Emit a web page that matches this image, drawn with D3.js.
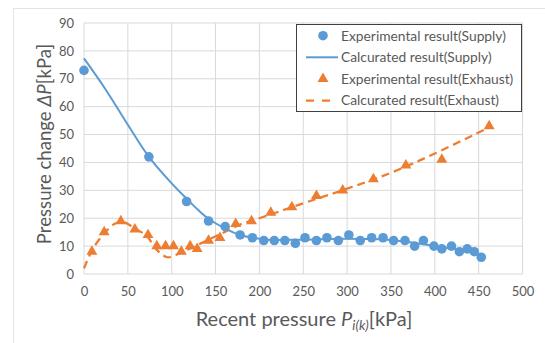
<!DOCTYPE html>
<html>
<head>
<meta charset="utf-8">
<script src="https://cdn.jsdelivr.net/npm/d3@7"></script>
<style>
  body { margin: 0; background: #fff; }
  svg text { font-family: Lato, "Open Sans", sans-serif; }
</style>
</head>
<body>
<div id="chart"></div>
<script>
// measured values
const supplyExp = [
    [0, 73], [74, 42], [117, 26], [142, 19], [161, 17], [178, 14], [192, 13],
    [205, 12], [217, 12], [229, 12], [241, 11], [252, 13], [265, 12], [277, 13],
    [290, 12], [302, 14], [315, 12], [328, 13], [341, 13], [353, 12], [366, 12],
    [377, 10], [387, 12], [399, 10], [408, 9], [419, 10], [428, 8], [437, 9],
    [445, 8], [453, 6]
];
const supplyCalc = [
    [0, 77.3], [25, 66], [50, 53.5], [74, 42], [100, 32.5], [117, 27], [130, 23],
    [142, 19.8], [161, 16.3], [178, 14], [192, 13], [210, 12.3], [250, 12.3],
    [300, 12.6], [350, 12.2], [380, 11], [410, 9.5], [435, 8.3], [453, 6.3]
];
const exhaustExp = [
    [9, 8], [23, 15], [42, 19], [58, 16], [73, 14], [83, 10], [93, 10], [102, 10],
    [111, 8], [121, 10], [129, 9], [142, 12], [155, 13], [173, 18], [191, 19],
    [213, 22], [237, 24], [265, 28], [295, 30], [330, 34], [367, 39], [408, 41],
    [462, 53]
];
const exhaustCalc = [
    [0, 2], [10, 9], [23, 14.5], [35, 18], [45, 18.6], [58, 16.3], [72, 13.5],
    [82, 9], [95, 6], [106, 7], [120, 9], [140, 12], [160, 15], [180, 18],
    [200, 20], [240, 24.3], [300, 30.6], [350, 36.3], [400, 43.2], [462, 52.6]
];
const xTicks = d3.range(0, 501, 50);
const yTicks = d3.range(0, 91, 10);
const legendItems = [
    { label: "Experimental result(Supply)", type: "circle", color: "#5B9BD5" },
    { label: "Calcurated result(Supply)", type: "line", color: "#5B9BD5" },
    { label: "Experimental result(Exhaust)", type: "triangle", color: "#ED7D31" },
    { label: "Calcurated result(Exhaust)", type: "dash", color: "#ED7D31" }
];

const width = 545, height = 343;
const margin = { top: 23, right: 22, bottom: 69, left: 84 };

const svg = d3.select("#chart").append("svg")
    .attr("width", width)
    .attr("height", height);

// outer chart border
svg.append("rect")
    .attr("x", 13.5).attr("y", 8.5)
    .attr("width", width).attr("height", height)
    .attr("fill", "none")
    .attr("stroke", "#e3e3e3");

const x = d3.scaleLinear().domain([0, 500]).range([margin.left, width - margin.right - 0.5]);
const y = d3.scaleLinear().domain([0, 90]).range([height - margin.bottom, margin.top]);

// grid
svg.append("g").selectAll("line").data(xTicks).join("line")
    .attr("x1", d => x(d)).attr("x2", d => x(d))
    .attr("y1", y(0)).attr("y2", y(90))
    .attr("stroke", "#d9d9d9").attr("stroke-width", 1);
svg.append("g").selectAll("line").data(yTicks).join("line")
    .attr("x1", x(0)).attr("x2", x(500))
    .attr("y1", d => y(d)).attr("y2", d => y(d))
    .attr("stroke", "#d9d9d9").attr("stroke-width", 1);

// axes (labels only)
const xAxis = svg.append("g")
    .attr("transform", `translate(0,${y(0)})`)
    .call(d3.axisBottom(x).tickValues(xTicks).tickSize(0).tickPadding(13));
const yAxis = svg.append("g")
    .attr("transform", `translate(${x(0)},0)`)
    .call(d3.axisLeft(y).tickValues(yTicks).tickSize(0).tickPadding(10));
[xAxis, yAxis].forEach(g => {
    g.select(".domain").remove();
    g.selectAll("text")
        .attr("fill", "#595959")
        .style("font-size", "13px");
});

// series
const lineGen = d3.line().x(d => x(d[0])).y(d => y(d[1])).curve(d3.curveCatmullRom);

svg.append("path")
    .datum(supplyCalc)
    .attr("d", lineGen)
    .attr("fill", "none")
    .attr("stroke", "#5B9BD5")
    .attr("stroke-width", 2);

svg.append("path")
    .datum(exhaustCalc)
    .attr("d", lineGen)
    .attr("fill", "none")
    .attr("stroke", "#ED7D31")
    .attr("stroke-width", 2.25)
    .attr("stroke-dasharray", "8,5");

svg.append("g").selectAll("circle").data(supplyExp).join("circle")
    .attr("cx", d => x(d[0]))
    .attr("cy", d => y(d[1]))
    .attr("r", 4.8)
    .attr("fill", "#5B9BD5");

const tri = d3.symbol().type(d3.symbolTriangle).size(52);
svg.append("g").selectAll("path").data(exhaustExp).join("path")
    .attr("transform", d => `translate(${x(d[0])},${y(d[1])})`)
    .attr("d", tri)
    .attr("fill", "#ED7D31");

// axis titles
const yTitle = svg.append("text")
    .attr("transform", `translate(51,144) rotate(-90)`)
    .attr("text-anchor", "middle")
    .attr("fill", "#595959")
    .style("font-size", "18.6px");
yTitle.append("tspan").text("Pressure change ");
yTitle.append("tspan").attr("font-style", "italic").text("ΔP");
yTitle.append("tspan").text("[kPa]");

const xTitle = svg.append("text")
    .attr("x", 304)
    .attr("y", 326)
    .attr("text-anchor", "middle")
    .attr("fill", "#595959")
    .style("font-size", "20px");
xTitle.append("tspan").text("Recent pressure ");
xTitle.append("tspan").attr("font-style", "italic").text("P");
xTitle.append("tspan").attr("font-style", "italic").attr("dy", 4).style("font-size", "13.5px").text("i(k)");
xTitle.append("tspan").attr("dy", -4).text("[kPa]");

// legend
const legend = svg.append("g").attr("transform", "translate(296,24)");
legend.append("rect")
    .attr("x", 0.5).attr("y", 0.5)
    .attr("width", 225).attr("height", 87)
    .attr("fill", "#fff")
    .attr("stroke", "#404040")
    .attr("stroke-width", 1);

const rows = legend.selectAll("g.item").data(legendItems).join("g")
    .attr("class", "item")
    .attr("transform", (d, i) => `translate(0,${11.7 + i * 21.6})`);

rows.each(function (d) {
    const g = d3.select(this);
    if (d.type === "circle") {
        g.append("circle").attr("cx", 27).attr("cy", 0).attr("r", 4.8).attr("fill", d.color);
    } else if (d.type === "triangle") {
        g.append("path").attr("transform", "translate(27,0)").attr("d", tri).attr("fill", d.color);
    } else {
        g.append("line")
            .attr("x1", 10).attr("x2", 42).attr("y1", 0).attr("y2", 0)
            .attr("stroke", d.color)
            .attr("stroke-width", d.type === "dash" ? 2.25 : 2)
            .attr("stroke-dasharray", d.type === "dash" ? "8,8" : null);
    }
});

rows.append("text")
    .attr("x", 45)
    .attr("dy", "0.35em")
    .attr("fill", "#595959")
    .style("font-size", "13.8px")
    .text(d => d.label);
</script>
</body>
</html>
